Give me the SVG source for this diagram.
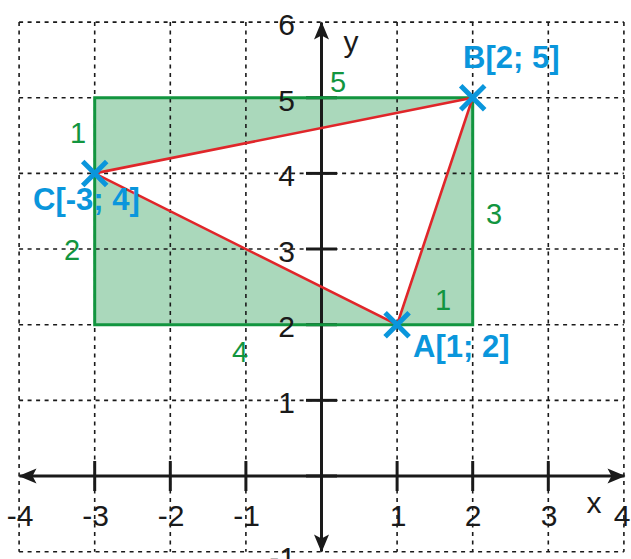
<svg xmlns="http://www.w3.org/2000/svg" width="631" height="559" viewBox="0 0 631 559">
<defs>
<style>
.grid{stroke:#1a1a1a;stroke-width:1.6;stroke-dasharray:4 4.5;fill:none}
.axis{stroke:#1a1a1a;stroke-width:3;fill:none}
.tick{stroke:#1a1a1a;stroke-width:3}
.num{font-family:"Liberation Sans",Arial,sans-serif;font-size:30px;fill:#1a1a1a}
.gnum{font-family:"Liberation Sans",Arial,sans-serif;font-size:29px;fill:#12953f;text-anchor:middle}
.pt{font-family:"Liberation Sans",Arial,sans-serif;font-size:31px;font-weight:bold;fill:#0a96dc}
.cross{stroke:#0a96dc;stroke-width:5;stroke-linecap:butt}
.red{stroke:#e0262a;stroke-width:2.6;fill:none}
.rect{stroke:#12953f;stroke-width:3;fill:none}
</style>
<marker id="arr" viewBox="-18 -8 20 16" refX="0" refY="0" markerWidth="20" markerHeight="16" markerUnits="userSpaceOnUse" orient="auto-start-reverse">
<path d="M1,0 L-17,-7.5 L-13,0 L-17,7.5 Z" fill="#1a1a1a"/>
</marker>
</defs>
<rect width="631" height="559" fill="#ffffff"/>
<g id="shading">
<path d="M94.7,97.75 H472.7 V324.7 H94.7 Z" fill="#aad8bb"/>
<path d="M397.1,324.7 L472.7,97.75 L94.7,173.4 Z" fill="#ffffff"/>
</g>
<g id="grid" class="grid">
<line x1="19.1" y1="22.1" x2="19.1" y2="551.7"/>
<line x1="94.7" y1="22.1" x2="94.7" y2="551.7"/>
<line x1="170.3" y1="22.1" x2="170.3" y2="551.7"/>
<line x1="245.9" y1="22.1" x2="245.9" y2="551.7"/>
<line x1="397.1" y1="22.1" x2="397.1" y2="551.7"/>
<line x1="472.7" y1="22.1" x2="472.7" y2="551.7"/>
<line x1="548.3" y1="22.1" x2="548.3" y2="551.7"/>
<line x1="623.9" y1="22.1" x2="623.9" y2="551.7"/>
<line x1="19.1" y1="22.1" x2="623.9" y2="22.1"/>
<line x1="19.1" y1="97.75" x2="623.9" y2="97.75"/>
<line x1="19.1" y1="173.4" x2="623.9" y2="173.4"/>
<line x1="19.1" y1="249" x2="623.9" y2="249"/>
<line x1="19.1" y1="324.7" x2="623.9" y2="324.7"/>
<line x1="19.1" y1="400.35" x2="623.9" y2="400.35"/>
<line x1="19.1" y1="551.7" x2="623.9" y2="551.7"/>
</g>
<g id="connectors">
<g id="axes">
<line class="axis" x1="321.5" y1="551.5" x2="321.5" y2="22.5" marker-start="url(#arr)" marker-end="url(#arr)"/>
<line class="axis" x1="19.5" y1="476" x2="624.5" y2="476" marker-start="url(#arr)" marker-end="url(#arr)"/>
<g class="tick">
<line x1="94.7" y1="461" x2="94.7" y2="491"/>
<line x1="170.3" y1="461" x2="170.3" y2="491"/>
<line x1="245.9" y1="461" x2="245.9" y2="491"/>
<line x1="397.1" y1="461" x2="397.1" y2="491"/>
<line x1="472.7" y1="461" x2="472.7" y2="491"/>
<line x1="548.3" y1="461" x2="548.3" y2="491"/>
<line x1="306" y1="97.75" x2="337" y2="97.75"/>
<line x1="306" y1="173.4" x2="337" y2="173.4"/>
<line x1="306" y1="249" x2="337" y2="249"/>
<line x1="306" y1="324.7" x2="337" y2="324.7"/>
<line x1="306" y1="400.35" x2="337" y2="400.35"/>
<line x1="306" y1="476" x2="337" y2="476"/>
</g>
</g>
<path id="rectangle" class="rect" d="M94.7,97.75 H472.7 V324.7 H94.7 Z"/>
<path id="triangle" class="red" d="M397.1,324.7 L472.7,97.75 L94.7,173.4 Z"/>
</g>
<g id="axis-labels" class="num">
<g text-anchor="end">
<text x="295" y="35">6</text>
<text x="295" y="110.5">5</text>
<text x="295" y="186">4</text>
<text x="295" y="261.5">3</text>
<text x="295" y="337">2</text>
<text x="295" y="412.5">1</text>
<text x="296" y="568">-1</text>
</g>
<g text-anchor="middle">
<text x="20" y="526">-4</text>
<text x="95.5" y="526">-3</text>
<text x="171" y="526">-2</text>
<text x="246.5" y="526">-1</text>
<text x="398" y="526">1</text>
<text x="473" y="526">2</text>
<text x="549" y="526">3</text>
<text x="622" y="526">4</text>
<text x="594" y="513">x</text>
<text x="351" y="52">y</text>
</g>
</g>
<g id="side-labels">
<text class="gnum" x="338" y="92">5</text>
<text class="gnum" x="78" y="143">1</text>
<text class="gnum" x="72" y="260">2</text>
<text class="gnum" x="494" y="224">3</text>
<text class="gnum" x="240" y="362">4</text>
<text class="gnum" x="443" y="310">1</text>
</g>
<g id="point-A">
<path class="cross" d="M385.1,312.7 L409.1,336.7 M409.1,312.7 L385.1,336.7"/>
<text class="pt" x="413" y="357">A[1; 2]</text>
</g>
<g id="point-B">
<path class="cross" d="M460.7,85.75 L484.7,109.75 M484.7,85.75 L460.7,109.75"/>
<text class="pt" x="463" y="68">B[2; 5]</text>
</g>
<g id="point-C">
<path class="cross" d="M82.7,161.4 L106.7,185.4 M106.7,161.4 L82.7,185.4"/>
<text class="pt" x="33" y="210">C[-3; 4]</text>
</g>
</svg>
